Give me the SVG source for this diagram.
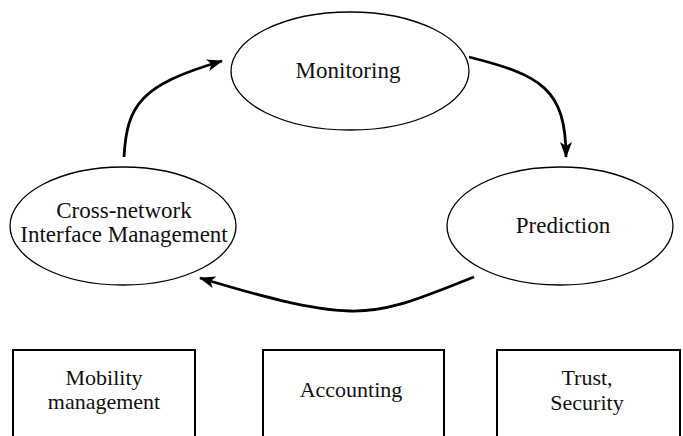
<svg xmlns="http://www.w3.org/2000/svg" width="683" height="436" viewBox="0 0 683 436">
<style>
.node ellipse{fill:#fff;stroke:#000;stroke-width:1.3}
.box rect{fill:#fff;stroke:#000;stroke-width:2}
text{font-family:"Liberation Serif","Times New Roman",serif;fill:#111;text-anchor:middle}
.node text{font-size:23px}
.box text{font-size:22px}
.conn path{fill:none;stroke:#000;stroke-width:2.8}
</style>
<defs>
<marker id="ah" viewBox="0 0 16 12" refX="15" refY="6" markerWidth="16" markerHeight="12" markerUnits="userSpaceOnUse" orient="auto">
<path d="M0,0 L16,6 L0,12 L4,6 Z" fill="#000"/>
</marker>
</defs>
<g id="monitoring" class="node">
<ellipse cx="350" cy="71" rx="119" ry="59"/>
<text x="348" y="78">Monitoring</text>
</g>
<g id="prediction" class="node">
<ellipse cx="560" cy="226" rx="113" ry="59"/>
<text x="563" y="233">Prediction</text>
</g>
<g id="cross" class="node">
<ellipse cx="123" cy="226" rx="113" ry="59"/>
<text x="124" y="218">Cross-network</text>
<text x="124" y="242">Interface Management</text>
</g>
<g id="mobility" class="box">
<rect x="13" y="350" width="182" height="100"/>
<text x="104" y="385">Mobility</text>
<text x="104" y="409">management</text>
</g>
<g id="accounting" class="box">
<rect x="263" y="350" width="181" height="100"/>
<text x="351" y="397">Accounting</text>
</g>
<g id="trust" class="box">
<rect x="497" y="350" width="183" height="100"/>
<text x="587" y="385">Trust,</text>
<text x="587" y="410">Security</text>
</g>
<g id="connectors" class="conn">
<path d="M124,157 C127,105 140,85 222,61" marker-end="url(#ah)"/>
<path d="M469,57 C540,75 566,88 566,157" marker-end="url(#ah)"/>
<path d="M474,277 C420,298 390,312 350,311 C310,310 260,296 200,278" marker-end="url(#ah)"/>
</g>
</svg>
